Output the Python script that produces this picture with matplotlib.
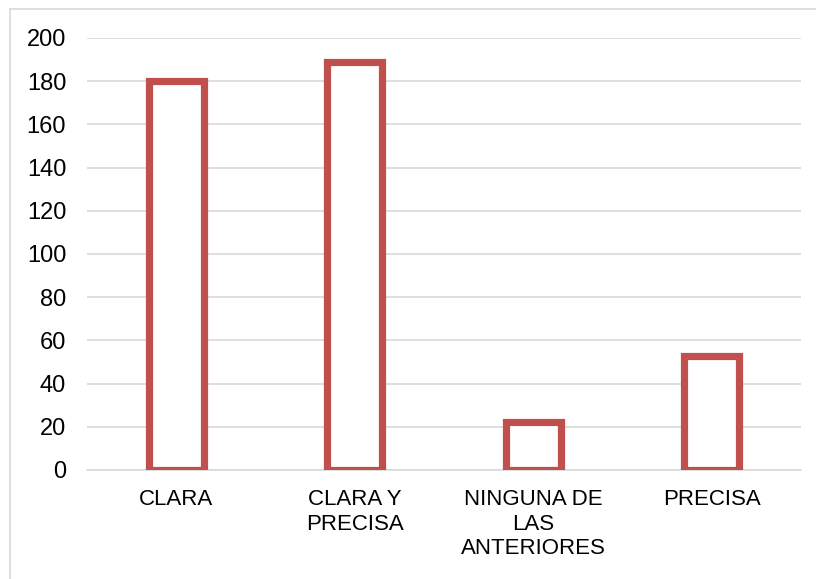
import matplotlib.pyplot as plt
from matplotlib.lines import Line2D

categories = ['CLARA', 'CLARA Y\nPRECISA', 'NINGUNA DE\nLAS\nANTERIORES', 'PRECISA']
counts = [180, 189, 22, 53]
y_ticks = [0, 20, 40, 60, 80, 100, 120, 140, 160, 180, 200]

plt.rcParams['font.family'] = ['Liberation Sans', 'DejaVu Sans']

fig = plt.figure(figsize=(8.16, 5.79), dpi=100)
ax = fig.add_axes([87 / 816, 109 / 579, 714 / 816, 432 / 579])

# chart frame: only the top and left edges fall inside the image
fx, fy = 9.5 / 816, 1 - 8.5 / 579
fig.lines.append(Line2D([fx, 1], [fy, fy], transform=fig.transFigure,
                        color='#d9d9d9', linewidth=1.2))
fig.lines.append(Line2D([fx, fx], [0, fy], transform=fig.transFigure,
                        color='#d9d9d9', linewidth=1.2))

x = range(len(categories))
ax.bar(x, counts, width=0.31, facecolor='white', edgecolor='#c0504d',
       linewidth=5.2, zorder=3)

ax.set_xlim(-0.5, len(categories) - 0.5)
ax.set_ylim(0, 200)
ax.set_yticks(y_ticks)
ax.set_xticks(list(x))
ax.set_xticklabels(categories, fontsize=16, linespacing=1.22, va='top')
ax.tick_params(axis='y', length=0, pad=15, labelsize=17)
ax.tick_params(axis='x', length=0, pad=14)

ax.grid(axis='y', color='#d9d9d9', linewidth=1.2, zorder=0)
for side in ['left', 'right', 'top']:
    ax.spines[side].set_visible(False)
ax.spines['bottom'].set_color('#d9d9d9')
ax.spines['bottom'].set_linewidth(1.2)

plt.savefig('out.png', dpi=100)
